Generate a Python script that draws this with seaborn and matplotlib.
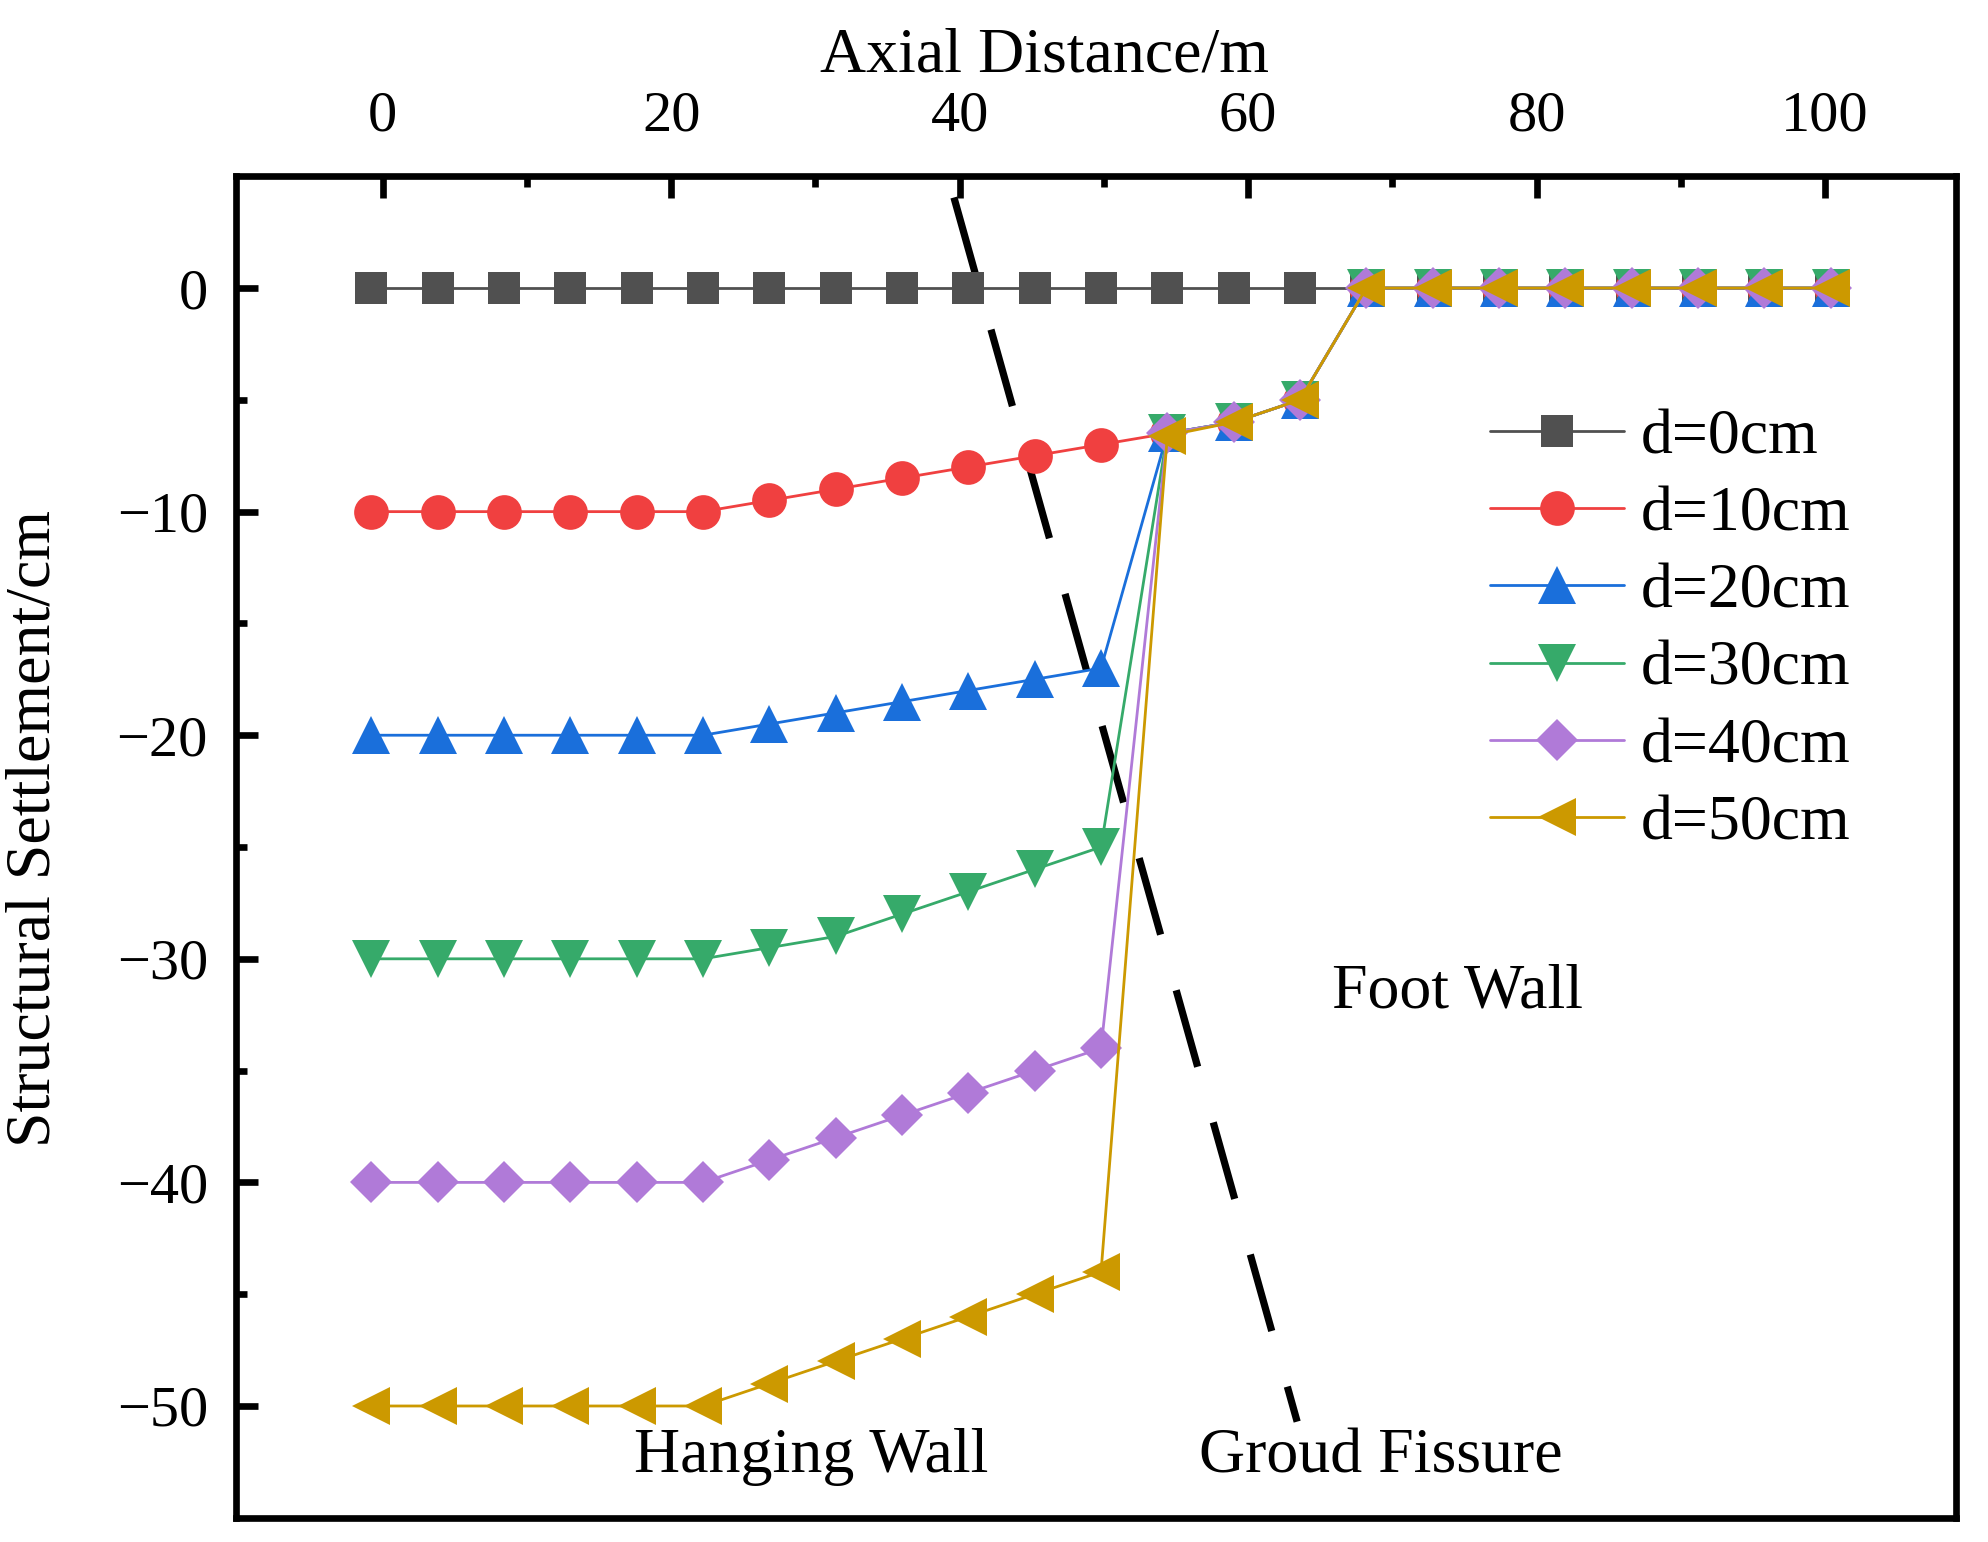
import numpy as np
import pandas as pd
import matplotlib
matplotlib.use("Agg")
import matplotlib.pyplot as plt
import seaborn as sns

# values
axial = [-0.8, 3.8, 8.4, 13.0, 17.6, 22.2, 26.8, 31.4, 36.0, 40.6, 45.2, 49.8,
         54.4, 59.0, 63.6, 68.2, 72.8, 77.4, 82.0, 86.6, 91.2, 95.8, 100.4]

d0 = [0] * 23
d10 = [-10, -10, -10, -10, -10, -10, -9.5, -9, -8.5, -8, -7.5, -7,
       -6.5, -6, -5, 0, 0, 0, 0, 0, 0, 0, 0]
d20 = [-20, -20, -20, -20, -20, -20, -19.5, -19, -18.5, -18, -17.5, -17,
       -6.5, -6, -5, 0, 0, 0, 0, 0, 0, 0, 0]
d30 = [-30, -30, -30, -30, -30, -30, -29.5, -29, -28, -27, -26, -25,
       -6.5, -6, -5, 0, 0, 0, 0, 0, 0, 0, 0]
d40 = [-40, -40, -40, -40, -40, -40, -39, -38, -37, -36, -35, -34,
       -6.5, -6, -5, 0, 0, 0, 0, 0, 0, 0, 0]
d50 = [-50, -50, -50, -50, -50, -50, -49, -48, -47, -46, -45, -44,
       -6.6, -6, -5, 0, 0, 0, 0, 0, 0, 0, 0]

labels = ["d=0cm", "d=10cm", "d=20cm", "d=30cm", "d=40cm", "d=50cm"]
colors = ["#505050", "#f04040", "#1a6fdb", "#36aa6a", "#b07ad8", "#cc9900"]
markers = ["s", "o", "^", "v", "D", "<"]
msizes = [11.5, 12.5, 14, 14, 10.5, 14]

# ground fissure trace
fissure_x = [39.6, 63.4]
fissure_y = [4.05, -50.7]

sns.set_style("ticks")
plt.rcParams["font.family"] = ["Liberation Serif", "DejaVu Serif"]
plt.rcParams["text.color"] = "black"
plt.rcParams["axes.labelcolor"] = "black"
plt.rcParams["xtick.color"] = "black"
plt.rcParams["ytick.color"] = "black"

fig = plt.figure(figsize=(9.94, 7.71), dpi=200)
ax = fig.add_axes([0.1186, 0.0157, 0.8654, 0.870])

series = [d0, d10, d20, d30, d40, d50]
for vals, lab, col, mk, ms in zip(series, labels, colors, markers, msizes):
    df = pd.DataFrame({"x": axial, "y": vals})
    sns.lineplot(data=df, x="x", y="y", ax=ax, color=col, marker=mk,
                 markersize=ms, markeredgewidth=0, linewidth=1.0,
                 label=lab, sort=False)

ax.plot(fissure_x, fissure_y, color="black", linewidth=2.6,
        linestyle=(0, (11, 8)), zorder=1)

ax.text(74.5, -31.5, "Foot Wall", fontsize=23, ha="center", va="center")
ax.text(29.7, -52.3, "Hanging Wall", fontsize=23, ha="center", va="center")
ax.text(69.2, -52.3, "Groud Fissure", fontsize=23, ha="center", va="center")

ax.set_xlim(-10.2, 109.1)
ax.set_ylim(-55, 5)
ax.set_xticks([0, 20, 40, 60, 80, 100])
ax.set_xticks([10, 30, 50, 70, 90], minor=True)
ax.set_yticks([-50, -40, -30, -20, -10, 0])
ax.set_yticks([-45, -35, -25, -15, -5], minor=True)

ax.xaxis.set_ticks_position("top")
ax.xaxis.set_label_position("top")
ax.tick_params(axis="both", which="both", direction="in", width=2.4,
               color="black", labelcolor="black")
ax.tick_params(axis="both", which="major", length=8, labelsize=21)
ax.tick_params(axis="both", which="minor", length=4)
ax.tick_params(axis="x", which="both", top=True, bottom=False, pad=12)
ax.tick_params(axis="y", which="both", left=True, right=False, pad=10)

for sp in ax.spines.values():
    sp.set_visible(True)
    sp.set_linewidth(2.4)
    sp.set_color("black")

ax.set_xlabel("Axial Distance/m", fontsize=23)
ax.set_ylabel("Structural Settlement/cm", fontsize=23)
ax.xaxis.set_label_coords(0.47, 1.078)
ax.yaxis.set_label_coords(-0.1, 0.514)

ax.legend(loc="upper right", bbox_to_anchor=(0.968, 0.865), frameon=False,
          fontsize=23, handlelength=2.1, labelspacing=0.29,
          handletextpad=0.25, borderaxespad=0.4)

fig.savefig("out.png", dpi=200)
